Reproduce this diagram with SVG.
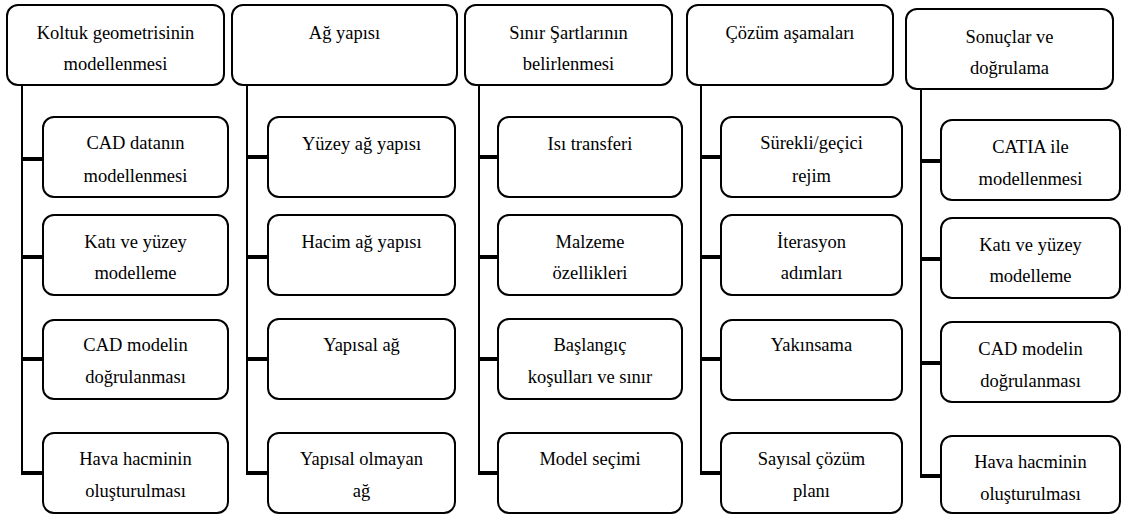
<svg xmlns="http://www.w3.org/2000/svg" width="1123" height="515" viewBox="0 0 1123 515">
<style>
rect{fill:#fff;stroke:#000;stroke-width:2}
text{font-family:"Liberation Serif","Times New Roman",serif;font-size:18.5px;fill:#000;text-anchor:middle}
.v{stroke:#000;stroke-width:2;fill:none}
.t{stroke:#000;stroke-width:4;fill:none}
</style>
<rect x="0" y="0" width="1123" height="515" style="stroke:none"/>
<g id="connectors">
<path class="v" d="M22 85V474M247 85V474M479 85V474M701 85V474M921 89V477"/>
<path class="t" d="M21 159H43M21 257H43M21 359H43M21 473H43"/>
<path class="t" d="M246 157H268M246 257H268M246 359H268M246 473H268"/>
<path class="t" d="M478 157H498M478 257H498M478 359H498M478 473H498"/>
<path class="t" d="M700 157H721M700 257H721M700 359H721M700 473H721"/>
<path class="t" d="M920 161H941M920 259H941M920 363H941M920 476H941"/>
</g>
<g id="h1"><rect x="7" y="5" width="217" height="80" rx="11"/><text x="115.5" y="39">Koltuk geometrisinin</text><text x="115.5" y="70">modellenmesi</text></g>
<g id="c1a"><rect x="43" y="117" width="185" height="80" rx="11"/><text x="135.5" y="149">CAD datanın</text><text x="135.5" y="182">modellenmesi</text></g>
<g id="c1b"><rect x="43" y="215" width="185" height="80" rx="11"/><text x="135.5" y="248">Katı ve yüzey</text><text x="135.5" y="279">modelleme</text></g>
<g id="c1c"><rect x="43" y="320" width="185" height="79" rx="11"/><text x="135.5" y="351">CAD modelin</text><text x="135.5" y="383">doğrulanması</text></g>
<g id="c1d"><rect x="43" y="433" width="185" height="80" rx="11"/><text x="135.5" y="465">Hava hacminin</text><text x="135.5" y="497">oluşturulması</text></g>

<g id="h2"><rect x="232" y="5" width="225" height="80" rx="11"/><text x="344.5" y="39">Ağ yapısı</text></g>
<g id="c2a"><rect x="268" y="117" width="187" height="80" rx="11"/><text x="361.5" y="150">Yüzey ağ yapısı</text></g>
<g id="c2b"><rect x="268" y="215" width="187" height="80" rx="11"/><text x="361.5" y="248">Hacim ağ yapısı</text></g>
<g id="c2c"><rect x="268" y="319" width="187" height="80" rx="11"/><text x="361.5" y="351">Yapısal ağ</text></g>
<g id="c2d"><rect x="268" y="433" width="187" height="80" rx="11"/><text x="361.5" y="465">Yapısal olmayan</text><text x="361.5" y="497">ağ</text></g>

<g id="h3"><rect x="465" y="5" width="207" height="80" rx="11"/><text x="568.5" y="39">Sınır Şartlarının</text><text x="568.5" y="70">belirlenmesi</text></g>
<g id="c3a"><rect x="498" y="117" width="184" height="80" rx="11"/><text x="590" y="150">Isı transferi</text></g>
<g id="c3b"><rect x="498" y="215" width="184" height="80" rx="11"/><text x="590" y="248">Malzeme</text><text x="590" y="279">özellikleri</text></g>
<g id="c3c"><rect x="498" y="319" width="184" height="80" rx="11"/><text x="590" y="351">Başlangıç</text><text x="590" y="383">koşulları ve sınır</text></g>
<g id="c3d"><rect x="498" y="433" width="184" height="80" rx="11"/><text x="590" y="465">Model seçimi</text></g>

<g id="h4"><rect x="687" y="5" width="206" height="80" rx="11"/><text x="790" y="39">Çözüm aşamaları</text></g>
<g id="c4a"><rect x="721" y="117" width="181" height="80" rx="11"/><text x="811.5" y="149">Sürekli/geçici</text><text x="811.5" y="182">rejim</text></g>
<g id="c4b"><rect x="721" y="215" width="181" height="80" rx="11"/><text x="811.5" y="248">İterasyon</text><text x="811.5" y="279">adımları</text></g>
<g id="c4c"><rect x="721" y="320" width="181" height="80" rx="11"/><text x="811.5" y="351">Yakınsama</text></g>
<g id="c4d"><rect x="721" y="433" width="181" height="80" rx="11"/><text x="811.5" y="465">Sayısal çözüm</text><text x="811.5" y="497">planı</text></g>

<g id="h5"><rect x="906" y="9" width="207" height="80" rx="11"/><text x="1009.5" y="43">Sonuçlar ve</text><text x="1009.5" y="74">doğrulama</text></g>
<g id="c5a"><rect x="941" y="120" width="179" height="80" rx="11"/><text x="1030.5" y="153">CATIA ile</text><text x="1030.5" y="185">modellenmesi</text></g>
<g id="c5b"><rect x="941" y="218" width="179" height="80" rx="11"/><text x="1030.5" y="251">Katı ve yüzey</text><text x="1030.5" y="282">modelleme</text></g>
<g id="c5c"><rect x="941" y="322" width="179" height="80" rx="11"/><text x="1030.5" y="355">CAD modelin</text><text x="1030.5" y="387">doğrulanması</text></g>
<g id="c5d"><rect x="941" y="436" width="179" height="77" rx="11"/><text x="1030.5" y="468">Hava hacminin</text><text x="1030.5" y="500">oluşturulması</text></g>
</svg>
